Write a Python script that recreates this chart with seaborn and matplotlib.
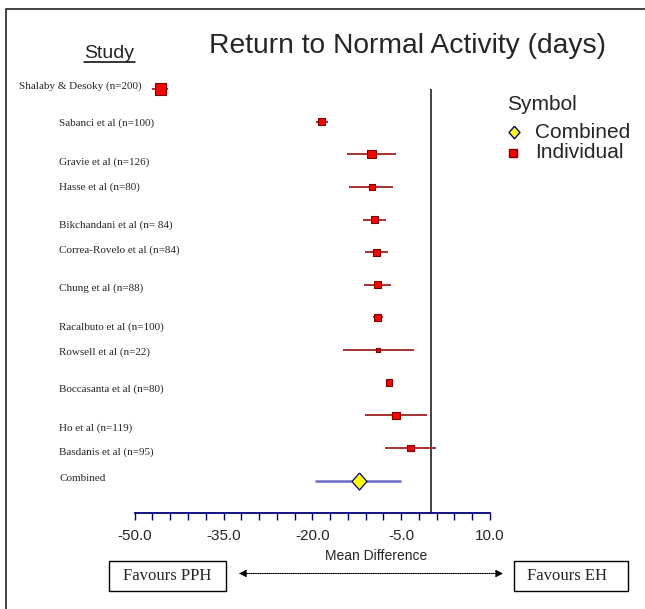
import numpy as np
import pandas as pd
import matplotlib
matplotlib.use("Agg")
import matplotlib.pyplot as plt
import matplotlib.transforms as mtransforms
from matplotlib.lines import Line2D
from matplotlib.patches import Rectangle, FancyArrowPatch
from matplotlib.ticker import FixedLocator
import seaborn as sns

# ---------------- data ----------------
studies = ["Shalaby & Desoky (n=200)", "Sabanci et al (n=100)", "Gravie et al (n=126)",
           "Hasse et al (n=80)", "Bikchandani et al (n= 84)", "Correa-Rovelo et al (n=84)",
           "Chung et al (n=88)", "Racalbuto et al (n=100)", "Rowsell et al (n=22)",
           "Boccasanta et al (n=80)", "Ho et al (n=119)", "Basdanis et al (n=95)"]
mean_diff = [-45.7, -18.4, -10.0, -10.0, -9.5, -9.2, -8.95, -8.95, -8.85, -7.05, -5.9, -3.5]
ci_low = [-47.0, -19.4, -14.2, -13.75, -11.5, -11.05, -11.2, -9.7, -14.8, -7.6, -11.05, -7.8]
ci_high = [-44.4, -17.4, -5.9, -6.3, -7.6, -7.3, -6.7, -8.0, -2.9, -6.5, -0.6, 0.8]
weights = [19.8, 8.4, 10.8, 5.7, 6.9, 6.9, 8.4, 6.9, 2.4, 6.9, 9.3, 7.5]

combined_label = "Combined"
combined_md = [-12.2]
combined_low = [-19.5]
combined_high = [-5.0]

major_ticks = [-50.0, -35.0, -20.0, -5.0, 10.0]
minor_step = 3.0
title = "Return to Normal Activity (days)"
x_label = "Mean Difference"
left_note = "Favours PPH"
right_note = "Favours EH"
legend_title = "Symbol"
legend_items = ["Combined", "Individual"]

# ---------------- layout ----------------
W, H = 645, 609
label_offsets = [-0.09, 0.04, 0.23, 0.02, 0.18, -0.05, 0.10, 0.29, 0.05, 0.20, 0.38, 0.14, -0.06]
serif = ["Liberation Serif", "DejaVu Serif"]
sans = ["Liberation Sans", "DejaVu Sans"]

sns.set_style("white")
plt.rcParams["font.family"] = sans

def fx(px):
    return px / W

def fy(py):
    return 1 - py / H

ind = pd.DataFrame({"study": studies, "md": mean_diff, "lo": ci_low, "hi": ci_high,
                    "weight": weights})
ind["row"] = np.arange(len(ind))
comb = pd.DataFrame({"study": [combined_label], "md": combined_md, "lo": combined_low,
                     "hi": combined_high})
comb["row"] = [len(ind)]
n_rows = len(ind) + 1

fig = plt.figure(figsize=(W / 100, H / 100), dpi=100)
ax_left, ax_right, ax_bottom = 134.7, 490.0, 513.3
row_px = 32.64
y_top = -0.7
y_bot = n_rows
ax_h = (y_bot - y_top) * row_px
ax = fig.add_axes([fx(ax_left), fy(ax_bottom), (ax_right - ax_left) / W, ax_h / H])
ax.set_facecolor("none")

# confidence intervals
ax.hlines(ind["row"], ind["lo"], ind["hi"], color="#a02020", lw=1.3, zorder=2)
ax.hlines(comb["row"], comb["lo"], comb["hi"], color="#6a6ac8", lw=1.8, zorder=2)

# individual squares sized by weight
k = 3.33
sns.scatterplot(data=ind, x="md", y="row", size="weight",
                sizes=(min(weights) * k, max(weights) * k),
                size_norm=(min(weights), max(weights)),
                marker="s", color="#ff0000", edgecolor="#800000", linewidth=0.8,
                legend=False, zorder=3, ax=ax)

diamond = [(0, 1), (0.88, 0), (0, -1), (-0.88, 0), (0, 1)]
sns.scatterplot(data=comb, x="md", y="row", marker=diamond, s=150,
                color="#ffff00", edgecolor="#000080", linewidth=0.9,
                legend=False, zorder=3, ax=ax)

# line of no effect
ax.vlines(0, 0, y_bot, color="#222222", lw=1.2, zorder=1)

ax.set_xlim(major_ticks[0], major_ticks[-1])
ax.set_ylim(y_bot, y_top)
ax.set_xticks(major_ticks)
ax.set_xticklabels([f"{t:.1f}" for t in major_ticks], fontsize=11)
minor = [t for t in np.arange(major_ticks[0], major_ticks[-1] + 0.01, minor_step)
         if not any(abs(t - m) < 1e-6 for m in major_ticks)]
ax.xaxis.set_minor_locator(FixedLocator(minor))
ax.tick_params(axis="x", which="both", direction="out", length=5, width=1,
               color="#000080", pad=6.5, bottom=True)
ax.set_yticks([])
ax.set_xlabel("")
ax.set_ylabel("")
for s in ["left", "top", "right"]:
    ax.spines[s].set_visible(False)
ax.spines["bottom"].set_color("#000080")
ax.spines["bottom"].set_linewidth(1.3)

# study labels
trans = mtransforms.blended_transform_factory(fig.transFigure, ax.transData)
all_labels = studies + [combined_label]
for i, lab in enumerate(all_labels):
    xpx = 19.3 if i == 0 else 59.3
    ax.text(fx(xpx), i + label_offsets[i], lab, transform=trans, ha="left", va="center",
            fontsize=8, family=serif, clip_on=False)

# titles
fig.text(fx(209), fy(53.3), title, fontsize=20.3, ha="left", va="baseline")
fig.text(fx(84), fy(58.5), "Study", fontsize=14, ha="left", va="baseline")
fig.add_artist(Line2D([fx(84), fx(135)], [fy(61.5), fy(61.5)], color="black", lw=1.1,
                      transform=fig.transFigure))
fig.text(fx(376), fy(556), x_label, fontsize=10, ha="center", va="center")

# legend (manual)
fig.text(fx(507), fy(105), legend_title, fontsize=15, ha="left", va="center")
fig.text(fx(535), fy(132.7), legend_items[0], fontsize=15, ha="left", va="center")
fig.text(fx(535), fy(153), legend_items[1], fontsize=15, ha="left", va="center")
fig.add_artist(Line2D([fx(513.5)], [fy(131.7)], marker=diamond, markersize=9,
                      markerfacecolor="#ffff00", markeredgecolor="#000080", lw=0,
                      markeredgewidth=1.0, transform=fig.transFigure))
fig.add_artist(Line2D([fx(513)], [fy(153.3)], marker="s", markersize=5.8,
                      markerfacecolor="#ff0000", markeredgecolor="#800000", lw=0,
                      transform=fig.transFigure))

# favours boxes
for (x0, x1, txt, tx) in [(109.3, 225.7, left_note, 167.5), (514.3, 627.7, right_note, 567)]:
    fig.add_artist(Rectangle((fx(x0), fy(590.8)), (x1 - x0) / W, 30.1 / H, fill=False,
                             edgecolor="black", lw=1.0, transform=fig.transFigure))
    fig.text(fx(tx), fy(576), txt, fontsize=12, family=serif, ha="center", va="center")

fig.add_artist(FancyArrowPatch(
    (fx(236), fy(573.5)), (fx(506), fy(573.5)), transform=fig.transFigure,
    arrowstyle="<|-|>", mutation_scale=11, lw=0.8, linestyle=(0, (1, 1)),
    color="black"))

# outer frame (top and left edges visible)
fig.add_artist(Rectangle((fx(6.3), fy(700)), 1.2, (700 - 9.3) / H, fill=False,
                         edgecolor="#333333", lw=1.3, transform=fig.transFigure))

fig.savefig("out.png", dpi=100)
